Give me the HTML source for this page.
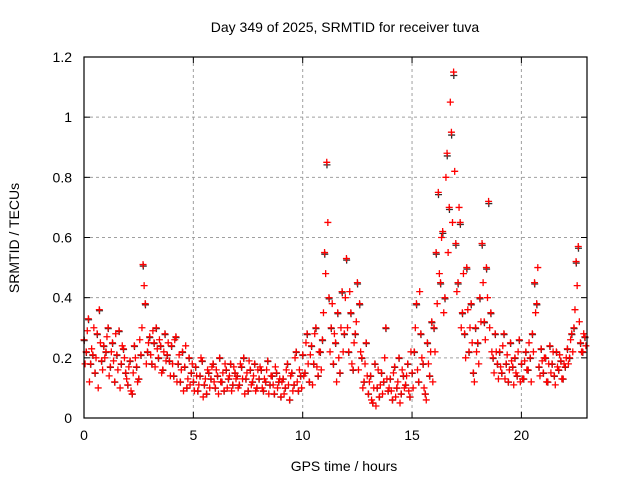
<!DOCTYPE html>
<html><head><meta charset="utf-8"><style>
html,body{margin:0;padding:0;background:#fff;}
svg{display:block;font-family:"Liberation Sans",sans-serif;}
</style></head><body>
<svg id="chart" width="640" height="480" viewBox="0 0 640 480">
<rect width="640" height="480" fill="#fff"/>
<g id="grid"></g><g id="marks"></g><g id="axes"></g>
</svg>
<script>
const xTicks=[0,5,10,15,20];
const yTicks=[0,0.2,0.4,0.6,0.8,1,1.2];
const yTickLabels=["0","0.2","0.4","0.6","0.8","1","1.2"];
const seriesA=[
.26,.22,.33,.18,.21,.15,.28,.36,.19,.24,
.22,.30,.17,.25,.12,.21,.29,.18,.23,.15,
.11,.19,.08,.24,.17,.13,.21,.51,.38,.22,
.27,.18,.25,.30,.20,.24,.16,.28,.21,.19,
.24,.14,.27,.18,.12,.22,.17,.10,.20,.15,
.12,.17,.09,.14,.19,.11,.08,.15,.13,.18,
.10,.14,.20,.12,.09,.16,.13,.18,.11,.15,
.14,.11,.17,.20,.13,.09,.16,.12,.18,.10,
.13,.16,.09,.12,.19,.11,.14,.08,.15,.12,
.07,.13,.10,.18,.06,.15,.11,.22,.09,.14,
.21,.15,.28,.12,.24,.18,.30,.14,.22,.26,
.55,.85,.40,.30,.18,.25,.35,.15,.42,.28,
.53,.22,.35,.16,.28,.45,.38,.20,.12,.25,
.08,.14,.05,.18,.10,.07,.15,.12,.30,.09,
.13,.06,.17,.10,.20,.08,.14,.11,.18,.07,
.15,.22,.38,.12,.28,.18,.08,.25,.14,.32,
.30,.55,.75,.45,.62,.40,.88,.70,.95,1.15,
.58,.45,.65,.35,.28,.50,.22,.38,.15,.30,
.25,.40,.58,.32,.50,.72,.35,.20,.28,.18,
.22,.15,.28,.18,.12,.25,.17,.20,.14,.26,
.18,.13,.22,.16,.20,.28,.45,.38,.17,.23,
.15,.20,.12,.24,.18,.14,.22,.16,.19,.13,
.17,.23,.20,.28,.30,.52,.57,.25,.22,.27];
const seriesB=[
.18,.29,.12,.23,.30,.20,.10,.25,.16,.20,
.27,.14,.22,.19,.28,.16,.10,.24,.20,.13,
.17,.09,.15,.20,.12,.26,.30,.44,.18,.25,
.21,.29,.17,.23,.26,.15,.22,.19,.25,.14,
.18,.26,.12,.21,.16,.09,.24,.13,.11,.18,
.09,.14,.11,.20,.07,.13,.16,.10,.17,.12,
.16,.08,.12,.15,.18,.10,.14,.09,.17,.13,
.10,.18,.13,.08,.15,.19,.11,.14,.09,.16,
.17,.10,.13,.16,.08,.14,.11,.17,.10,.13,
.12,.08,.16,.11,.14,.09,.20,.12,.16,.10,
.14,.25,.18,.21,.11,.28,.17,.22,.16,.35,
.48,.65,.22,.38,.28,.12,.20,.30,.22,.40,
.30,.42,.18,.25,.32,.16,.22,.10,.18,.14,
.12,.06,.10,.04,.16,.11,.08,.20,.13,.10,
.09,.15,.07,.12,.05,.16,.10,.14,.09,.22,
.10,.30,.16,.42,.20,.10,.06,.18,.22,.12,
.22,.38,.48,.60,.35,.80,.55,1.05,.65,.82,
.42,.70,.30,.48,.20,.36,.30,.25,.12,.22,
.18,.32,.45,.26,.40,.30,.22,.15,.22,.13,
.17,.24,.13,.21,.16,.19,.11,.15,.22,.12,
.13,.19,.16,.25,.12,.22,.35,.50,.14,.19,
.20,.12,.18,.15,.22,.11,.17,.21,.13,.18,
.20,.18,.26,.22,.36,.44,.32,.22,.28,.24];
const L=84,R=587,T=57,B=418,XMAX=23.0,YMAX=1.2;
const xs=v=>L+(R-L)*v/XMAX, ys=v=>B-(B-T)*v/YMAX;
const NS="http://www.w3.org/2000/svg";
function mk(tag,attrs,parent){const e=document.createElementNS(NS,tag);for(const k in attrs)e.setAttribute(k,attrs[k]);parent.appendChild(e);return e;}
const grid=document.getElementById('grid'),marks=document.getElementById('marks'),axes=document.getElementById('axes');
xTicks.forEach(t=>{const x=xs(t);
 if(t>0){const g=mk('line',{x1:x,y1:T,x2:x,y2:B,stroke:'#a0a0a0','stroke-dasharray':'3,3'},grid);
 
 }
 mk('line',{x1:x,y1:B,x2:x,y2:B-6,stroke:'#000'},axes);
 mk('line',{x1:x,y1:T,x2:x,y2:T+6,stroke:'#000'},axes);
 const tx=mk('text',{x:x,y:B+22,'text-anchor':'middle','font-size':14},axes);tx.textContent=t;
 
 
});
yTicks.forEach((t,i)=>{const y=ys(t);
 if(i>0&&i<yTicks.length-1){const g=mk('line',{x1:L,y1:y,x2:R,y2:y,stroke:'#a0a0a0','stroke-dasharray':'3,3'},grid);
 
 }
 mk('line',{x1:L,y1:y,x2:L+6,y2:y,stroke:'#000'},axes);
 mk('line',{x1:R,y1:y,x2:R-6,y2:y,stroke:'#000'},axes);
 const tx=mk('text',{x:L-12,y:y+5,'text-anchor':'end','font-size':14},axes);tx.textContent=yTickLabels[i];
 
 
});
const fr=mk('rect',{x:L,y:T,width:R-L,height:B-T,fill:'none',stroke:'#000','stroke-width':1.2},axes);


function plus(t,v,color,name){const x=xs(t),y=ys(v);
 const p=mk('path',{d:`M${x-3.5} ${y}h7M${x} ${y-3.5}v7`,stroke:color,'stroke-width':1.3,fill:'none'},marks);
 
 }
seriesA.forEach((v,i)=>plus(i*0.1+0.01,v*0.99,'#303030','black-point'));
seriesA.forEach((v,i)=>plus(i*0.1,v,'#ff0000','red-point'));
seriesB.forEach((v,i)=>plus(i*0.1+0.05,v,'#ff0000','red-point'));
const title=mk('text',{x:345,y:32,'text-anchor':'middle','font-size':14},axes);title.textContent="Day 349 of 2025, SRMTID for receiver tuva";


const xl=mk('text',{x:344,y:471,'text-anchor':'middle','font-size':14},axes);xl.textContent="GPS time / hours";


const yl=mk('text',{x:0,y:0,'text-anchor':'middle','font-size':14,transform:'translate(19,238) rotate(-90)'},axes);yl.textContent="SRMTID / TECUs";


</script>
</body></html>
